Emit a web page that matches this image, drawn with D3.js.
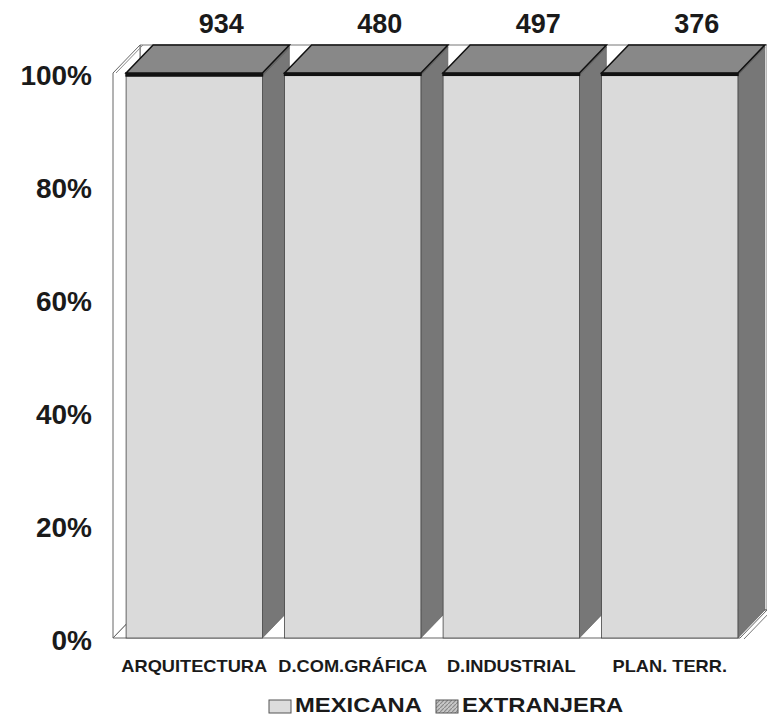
<!DOCTYPE html>
<html><head><meta charset="utf-8">
<script src="https://cdn.jsdelivr.net/npm/d3@7/dist/d3.min.js"></script>
<style>body{margin:0;background:#fff}svg{display:block}text{font-family:"Liberation Sans",Arial,sans-serif;font-weight:bold;fill:#1a1a1a}</style>
</head><body>
<script>
const categories = ["ARQUITECTURA","D.COM.GRÁFICA","D.INDUSTRIAL","PLAN. TERR."];
const totals = [934,480,497,376];
const mexicana = [99.5,99.6,99.6,99.6];
const extranjera = [0.5,0.4,0.4,0.4];
const yTicks = [0,20,40,60,80,100];
const seriesNames = ["MEXICANA","EXTRANJERA"];

const W=767,H=719;
const svg=d3.select("body").append("svg").attr("width",W).attr("height",H);
const defs=svg.append("defs");
const pat=defs.append("pattern").attr("id","hatch").attr("patternUnits","userSpaceOnUse").attr("width",4).attr("height",4);
pat.append("rect").attr("width",4).attr("height",4).attr("fill","#c8c8c8");
pat.append("path").attr("d","M-1,5 L5,-1").attr("stroke","#8a8a8a").attr("stroke-width",1.2);

const x=d3.scaleBand().domain(categories).range([115,749]).paddingInner(0.14).paddingOuter(0.07);
const y=d3.scaleLinear().domain([0,100]).range([638,73]);
const dx=27, dy=-28;
const x0=113, xEnd=740;

const g=svg.append("g");
g.append("polygon").attr("points",[[x0+dx,y(100)+dy],[W,y(100)+dy],[W,y(0)+dy],[x0+dx,y(0)+dy]].join(" "))
  .attr("fill","#fff").attr("stroke","#777").attr("stroke-width",1);
g.append("polygon").attr("points",[[x0,y(0)],[x0,y(100)],[x0+dx,y(100)+dy],[x0+dx,y(0)+dy]].join(" "))
  .attr("fill","#fff").attr("stroke","#666").attr("stroke-width",1);
g.append("line").attr("x1",x0+3).attr("y1",y(100)).attr("x2",x0+dx+3).attr("y2",y(100)+dy).attr("stroke","#888");
g.append("polygon").attr("points",[[x0,y(0)],[xEnd,y(0)],[xEnd+dx,y(0)+dy],[x0+dx,y(0)+dy]].join(" "))
  .attr("fill","#fff").attr("stroke","#666").attr("stroke-width",1);
g.append("line").attr("x1",xEnd+4).attr("y1",y(0)+1).attr("x2",xEnd+dx+4).attr("y2",y(0)+dy+1).attr("stroke","#777");

const bw=x.bandwidth();
categories.forEach((c,i)=>{
  const bx=x(c);
  const segs=[
    {lo:0,hi:mexicana[i],front:"#dadada",side:"#777"},
    {lo:mexicana[i],hi:mexicana[i]+extranjera[i],front:"url(#hatch)",side:"#666"}
  ];
  const bg=svg.append("g");
  segs.forEach(s=>{
    const yl=y(s.lo), yh=y(s.hi);
    bg.append("polygon").attr("points",[[bx+bw,yl],[bx+bw,yh],[bx+bw+dx,yh+dy],[bx+bw+dx,yl+dy]].join(" "))
      .attr("fill",s.side).attr("stroke","#555").attr("stroke-width",0.6);
  });
  segs.forEach((s,k)=>{
    const yl=y(s.lo), yh=y(s.hi);
    bg.append("rect").attr("x",bx).attr("y",yh).attr("width",bw).attr("height",yl-yh)
      .attr("fill",s.front).attr("stroke",k===1?"#111":"#444").attr("stroke-width",k===1?1.6:0.8);
  });
  const yt=y(100);
  bg.append("polygon").attr("points",[[bx,yt],[bx+bw,yt],[bx+bw+dx,yt+dy],[bx+dx,yt+dy]].join(" "))
    .attr("fill","#888").attr("stroke","#111").attr("stroke-width",1.5);
  bg.append("line").attr("x1",bx).attr("x2",bx+bw).attr("y1",y(mexicana[i])-1).attr("y2",y(mexicana[i])-1)
    .attr("stroke","#111").attr("stroke-width",3);
  svg.append("text").attr("x",bx+bw/2+dx).attr("y",33).attr("text-anchor","middle")
    .attr("font-size",27).text(totals[i]);
  svg.append("text").attr("transform",`translate(${bx+bw/2},672) scale(1.14,1)`).attr("text-anchor","middle")
    .attr("font-size",16).text(c);
});

yTicks.forEach(t=>{
  svg.append("text").attr("x",92).attr("y",y(t)+2).attr("dy","0.36em").attr("text-anchor","end")
    .attr("font-size",28).text(t+"%");
});

const leg=[{name:seriesNames[0],fill:"#dcdcdc",bx:269,tx:295},{name:seriesNames[1],fill:"url(#hatch)",bx:436,tx:462}];
leg.forEach(l=>{
  svg.append("rect").attr("x",l.bx).attr("y",700).attr("width",22).attr("height",13)
    .attr("fill",l.fill).attr("stroke","#555").attr("stroke-width",1);
  svg.append("text").attr("transform",`translate(${l.tx},712) scale(1.19,1)`).attr("font-size",20).text(l.name);
});
</script>
</body></html>
